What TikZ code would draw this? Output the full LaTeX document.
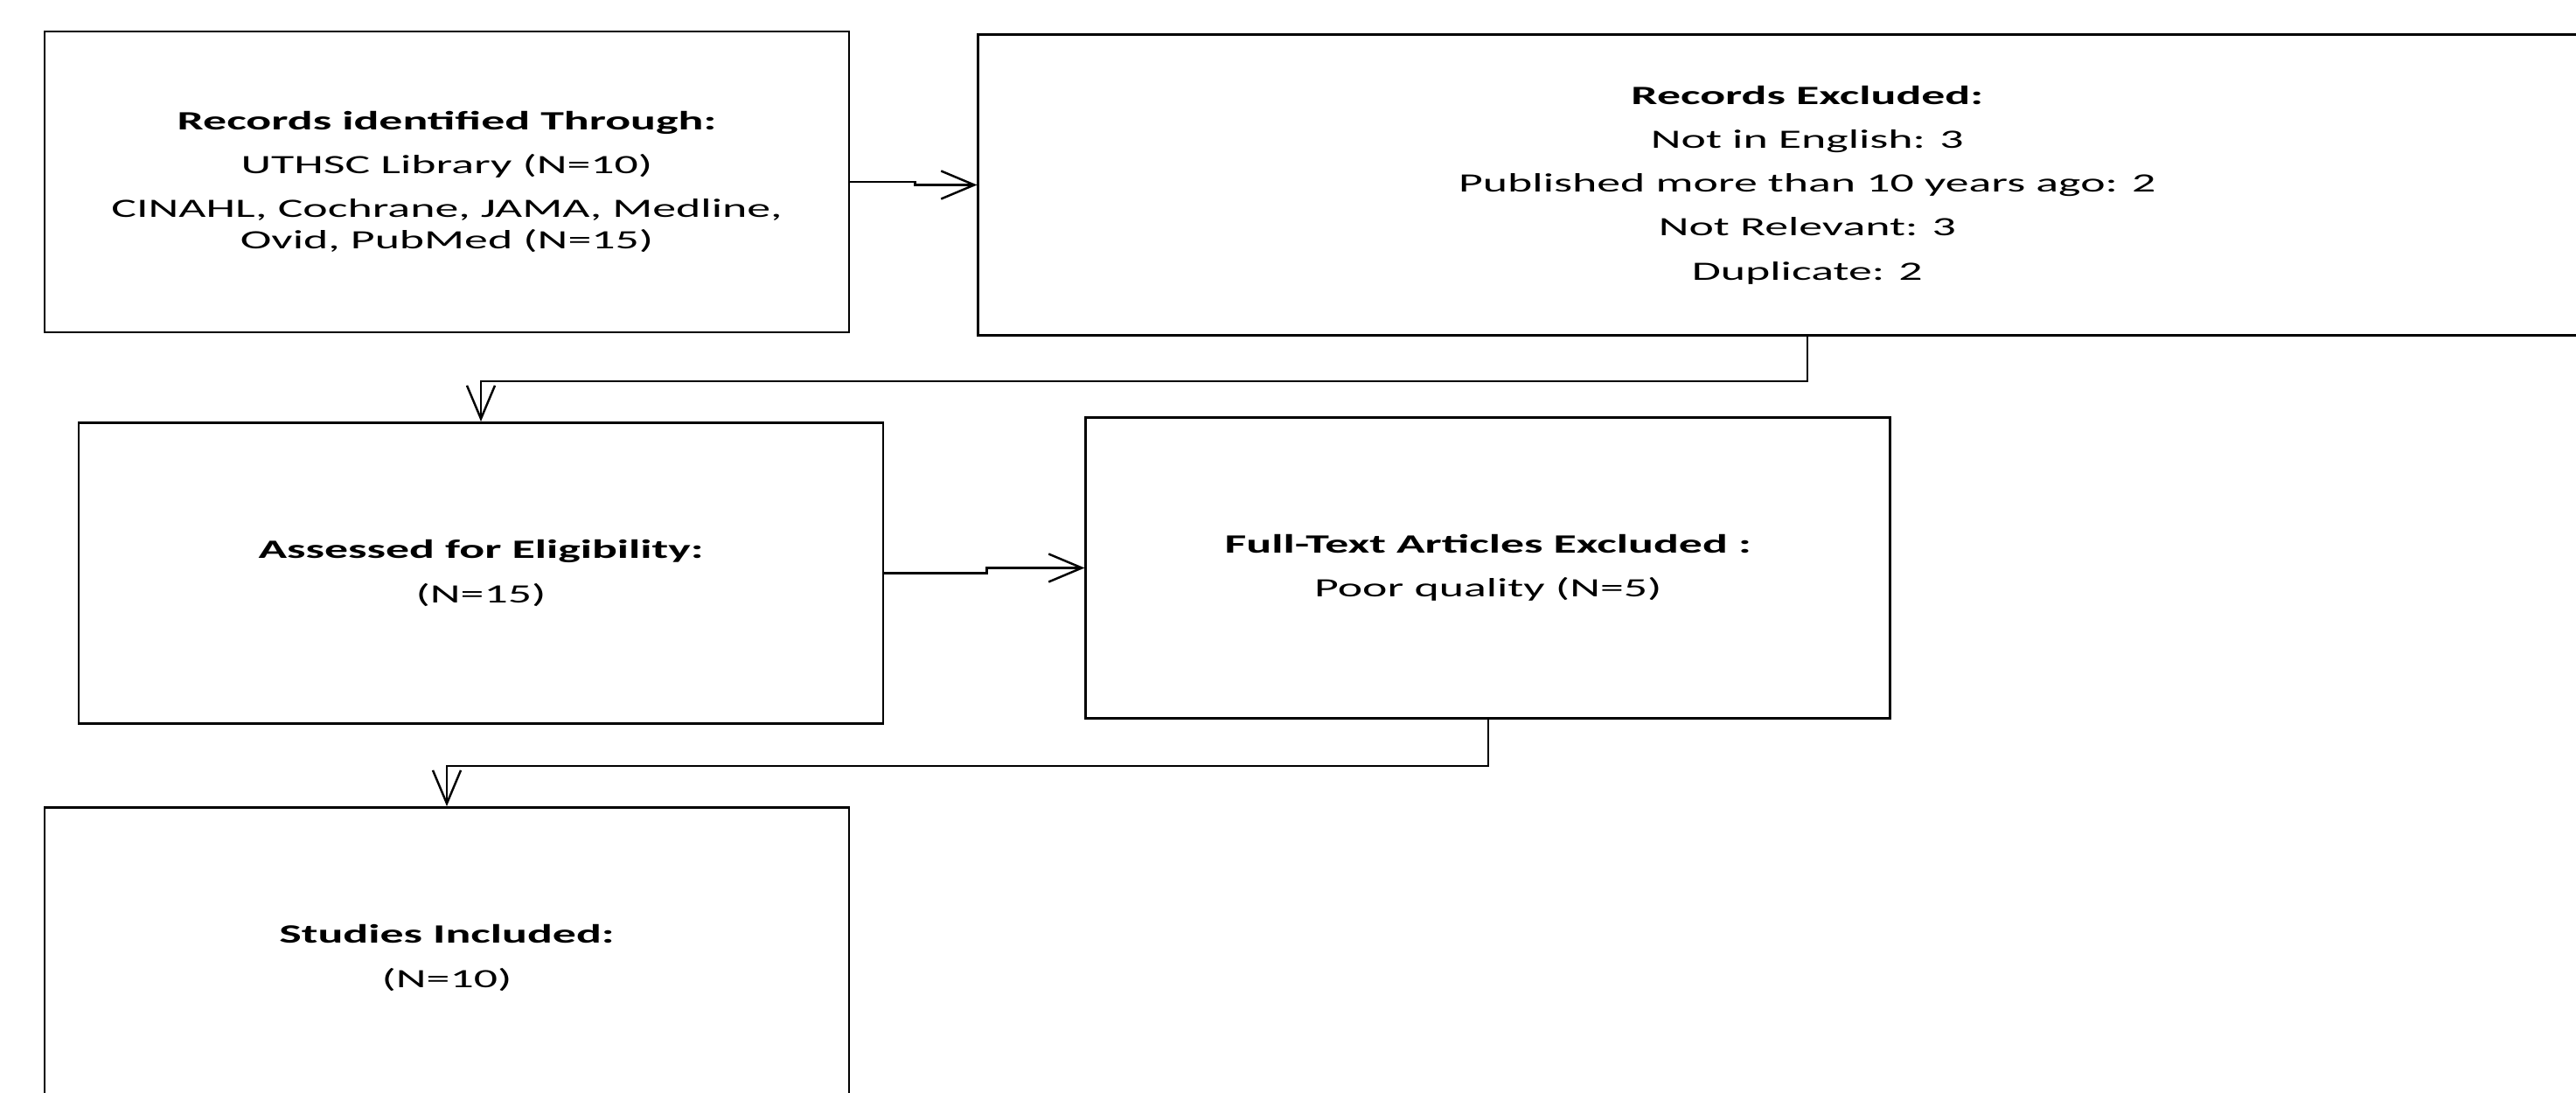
\documentclass[tikz,border=0pt]{standalone}
\usepackage{fontspec}
\setmainfont[FakeStretch=1.78]{Carlito}
\usepackage{tikz}
\usetikzlibrary{positioning,arrows.meta}

\begin{document}
\begin{tikzpicture}[
    node distance=8mm,
    box/.style={rectangle,draw,line width=0.8pt,align=center,minimum width=92mm,minimum height=34.4mm,inner sep=0pt,font=\fontsize{8.6pt}{10.3pt}\selectfont},
    widebox/.style={box,minimum width=189.6mm},
    arrow/.style={-{Straight Barb[length=3.8mm,width=3.2mm]},line width=0.7pt},
]
\useasboundingbox (0,0) rectangle (29.46,-12.5);

% ===== Identification =====
\node[box] (identified) at (5.11,-2.08) {
    \textbf{Records identified Through:}\\[4pt]
    UTHSC Library (N=10)\\[4pt]
    CINAHL, Cochrane, JAMA, Medline,\\
    Ovid, PubMed (N=15)
};
\node[widebox,right=14.5mm of identified,yshift=-0.35mm] (excluded) {
    \textbf{Records Excluded:}\\[4pt]
    Not in English: 3\\[4pt]
    Published more than 10 years ago: 2\\[4pt]
    Not Relevant: 3\\[4pt]
    Duplicate: 2
};

% ===== Eligibility =====
\node[box] (assessed) at (5.50,-6.555) {
    \textbf{Assessed for Eligibility:}\\[4pt]
    (N=15)
};
\node[box,right=22.9mm of assessed,yshift=0.6mm] (fulltext) {
    \textbf{Full-Text Articles Excluded :}\\[4pt]
    Poor quality (N=5)
};

% ===== Included =====
\node[box] (included) at (5.11,-10.955) {
    \textbf{Studies Included:}\\[4pt]
    (N=10)
};

% Connections
\draw[arrow] (identified.east) -- ++(0.74,0) |- (excluded.west);
\draw[arrow] (excluded.south) -- ++(0,-0.51) -| (assessed.north);
\draw[arrow] (assessed.east) -- ++(1.17,0) |- (fulltext.west);
\draw[arrow] (fulltext.south) -- ++(0,-0.53) -| (included.north);

\end{tikzpicture}
\end{document}
